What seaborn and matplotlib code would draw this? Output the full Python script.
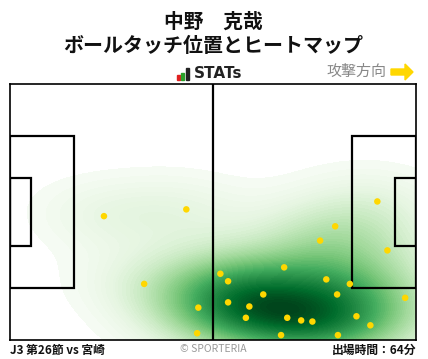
import matplotlib
matplotlib.use("Agg")
import matplotlib.pyplot as plt
import matplotlib.patches as patches
import seaborn as sns
import numpy as np

sns.set_theme(style="white")
plt.rcParams['font.family'] = ['Noto Sans CJK JP', 'DejaVu Sans']

# Ball touch positions (pitch coords: x 0-105 attacking right, y 0-68 from bottom)
touch_x = [24.3, 45.6, 95.0, 84.1, 80.2, 97.6, 70.9, 54.4, 56.4, 81.8, 87.9, 34.7,
           65.5, 84.6, 102.2, 56.4, 48.7, 61.9, 61.0, 71.7, 75.3, 78.2, 89.6, 93.2,
           48.4, 70.1, 84.8]
touch_y = [32.9, 34.7, 36.8, 30.2, 26.4, 23.8, 19.3, 17.6, 15.6, 16.1, 14.9, 14.9,
           12.1, 12.1, 11.2, 10.0, 8.6, 8.9, 5.9, 5.9, 5.2, 4.9, 6.3, 3.9,
           1.8, 1.3, 1.3]

title_name = "中野　克哉"
title_sub = "ボールタッチ位置とヒートマップ"
footer_left = "J3 第26節 vs 宮崎"
footer_mid = "© SPORTERIA"
footer_right = "出場時間：64分"
direction_label = "攻撃方向"

W, H = 428, 359
fig = plt.figure(figsize=(W / 100, H / 100), dpi=100)
ax = fig.add_axes([10 / W, (H - 340) / H, 406 / W, 256 / H])

sns.kdeplot(x=touch_x, y=touch_y, fill=True, cmap="Greens", levels=70, thresh=0.015,
            bw_adjust=1.15, gridsize=200, clip=((0, 105), (0, 68)), ax=ax, zorder=1)

lw = 1.6
kw = dict(fill=False, edgecolor="black", linewidth=lw, zorder=3)
# penalty areas and goal areas
ax.add_patch(patches.Rectangle((0, 13.84), 16.5, 40.32, **kw))
ax.add_patch(patches.Rectangle((105 - 16.5, 13.84), 16.5, 40.32, **kw))
ax.add_patch(patches.Rectangle((0, 24.84), 5.5, 18.32, **kw))
ax.add_patch(patches.Rectangle((105 - 5.5, 24.84), 5.5, 18.32, **kw))
ax.plot([52.5, 52.5], [0, 68], color="black", linewidth=lw, zorder=3)

ax.scatter(touch_x, touch_y, s=22, color="#FFD700", edgecolor="none", zorder=4)

ax.set_xlim(0, 105)
ax.set_ylim(0, 68)
ax.set_xticks([])
ax.set_yticks([])
ax.set_xlabel("")
ax.set_ylabel("")
for s in ax.spines.values():
    s.set_color("black")
    s.set_linewidth(1.2)
    s.set_visible(True)

# Titles
fig.text(213 / W, 1 - 22 / H, title_name, ha="center", va="center", fontsize=14.2,
         fontweight="bold", color="#111111")
fig.text(213 / W, 1 - 46 / H, title_sub, ha="center", va="center", fontsize=14.4,
         fontweight="bold", color="#111111")

# STATs logo
bars = [(177, 75, 3, 5, "#e02020"), (181, 73, 3, 7, "#2aa02a"), (186, 68, 3, 12, "#222222")]
for bx, by, bw, bh, bc in bars:
    fig.patches.append(patches.Rectangle((bx / W, 1 - (by + bh) / H), bw / W, bh / H,
                                         transform=fig.transFigure, color=bc))
fig.text(194 / W, 1 - 74 / H, "STATs", ha="left", va="center", fontsize=11,
         fontweight="bold", color="#222222", family=["DejaVu Sans"])

# attack direction
fig.text(386 / W, 1 - 72 / H, direction_label, ha="right", va="center", fontsize=10.8,
         color="#888888")
fig.patches.append(patches.FancyArrow(391 / W, 1 - 72 / H, 14 / W, 0, width=6 / H,
                                      head_width=16 / H, head_length=8 / W,
                                      length_includes_head=False,
                                      transform=fig.transFigure, color="#FFD700"))

# Footer
fig.text(10 / W, 1 - 350 / H, footer_left, ha="left", va="center", fontsize=8.5,
         fontweight="bold", color="#111111")
fig.text(213 / W, 1 - 349 / H, footer_mid, ha="center", va="center", fontsize=7.5,
         color="#999999")
fig.text(416 / W, 1 - 350 / H, footer_right, ha="right", va="center", fontsize=8.5,
         fontweight="bold", color="#111111")

fig.savefig("out.png", dpi=100, facecolor="white")
